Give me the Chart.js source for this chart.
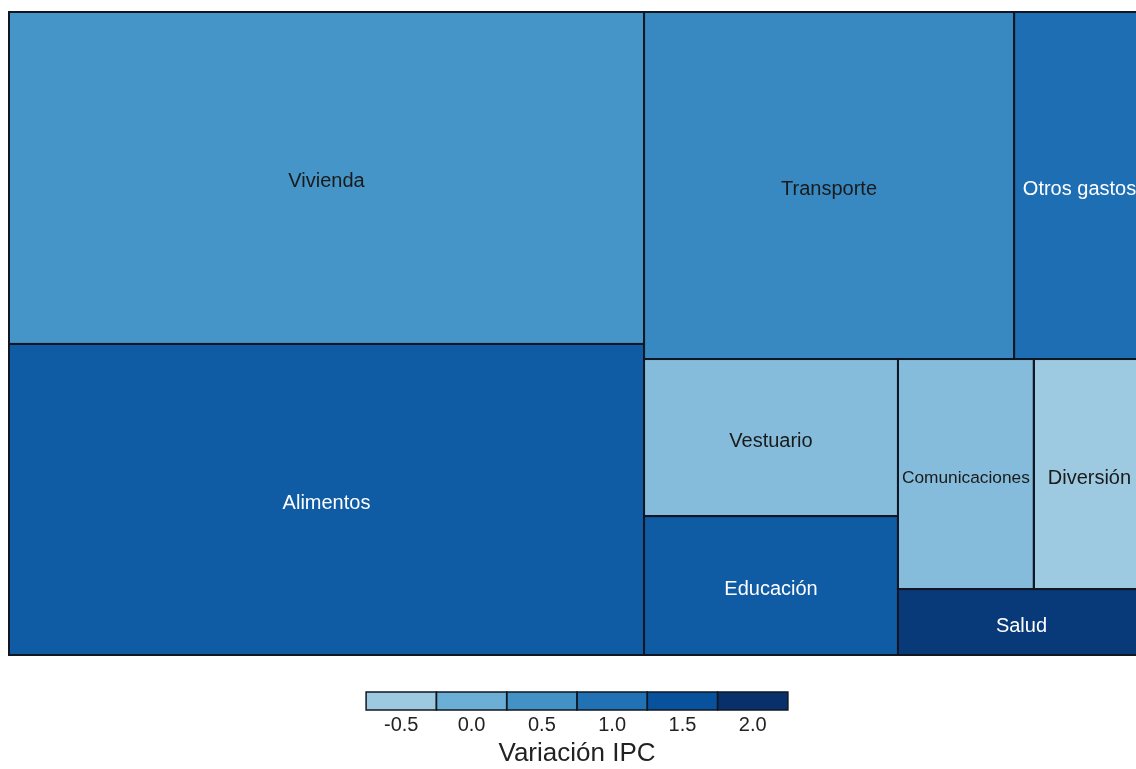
<!DOCTYPE html>
<html>
<head>
<meta charset="utf-8">
<script src="https://cdn.jsdelivr.net/npm/chart.js@4.4.1/dist/chart.umd.min.js"></script>
<style>
html,body{margin:0;padding:0;overflow:hidden;background:#fff}
#wrap{width:1154px;height:769px;position:relative}
</style>
</head>
<body>
<div id="wrap"><canvas id="c" width="1154" height="769"></canvas></div>
<script>
// ---- data ----
const categories = ['Vivienda', 'Alimentos', 'Transporte', 'Otros gastos', 'Vestuario', 'Educación', 'Comunicaciones', 'Diversión', 'Salud'];
const weights = [28.86, 27.04, 17.58, 6.22, 5.46, 4.83, 4.28, 3.50, 2.23];
const ipcVariation = [0.45, 1.35, 0.65, 1.05, -0.25, 1.35, -0.25, -0.5, 1.85];
const legendTicks = [-0.5, 0.0, 0.5, 1.0, 1.5, 2.0];
const legendColors = ['#9ecae1', '#6baed6', '#4292c6', '#2171b5', '#08519c', '#08306b'];
const legendTitle = 'Variación IPC';

// ---- helpers ----
function hexToRgb(h) { h = h.replace('#', ''); return [parseInt(h.substr(0,2),16), parseInt(h.substr(2,2),16), parseInt(h.substr(4,2),16)]; }
function colorFor(v) {
  const t = legendTicks;
  if (v <= t[0]) return hexToRgb(legendColors[0]);
  if (v >= t[t.length-1]) return hexToRgb(legendColors[t.length-1]);
  for (let i = 0; i < t.length - 1; i++) {
    if (v >= t[i] && v <= t[i+1]) {
      const f = (v - t[i]) / (t[i+1] - t[i]);
      const a = hexToRgb(legendColors[i]), b = hexToRgb(legendColors[i+1]);
      return a.map((c, k) => Math.round(c + (b[k] - c) * f));
    }
  }
}
function lum(rgb) {
  const l = rgb.map(c => { c /= 255; return c <= 0.03928 ? c / 12.92 : Math.pow((c + 0.055) / 1.055, 2.4); });
  return 0.2126*l[0] + 0.7152*l[1] + 0.0722*l[2];
}
const sumOf = arr => arr.reduce((s, it) => s + it.v, 0);

// pivot-by-size treemap layout (items sorted by size, descending)
function pivotLayout(items, x, y, w, h, out) {
  if (!items.length) return;
  if (items.length === 1) { out.push(Object.assign({}, items[0], {x, y, w, h})); return; }
  const total = sumOf(items);
  const P = items[0];
  const rest = items.slice(1);
  const wide = w >= h;
  let best = null;
  for (let k = 0; k <= rest.length; k++) {
    const s = P.v + sumOf(rest.slice(0, k));
    let pw, ph;
    if (wide) { pw = w * s / total; ph = h * P.v / s; }
    else { ph = h * s / total; pw = w * P.v / s; }
    const ar = Math.max(pw / ph, ph / pw);
    if (!best || ar < best.ar - 1e-9) best = {k, ar};
  }
  const L2 = rest.slice(0, best.k), L3 = rest.slice(best.k);
  const s = P.v + sumOf(L2);
  if (wide) {
    const cw = w * s / total, ph = h * P.v / s;
    out.push(Object.assign({}, P, {x, y, w: cw, h: ph}));
    pivotLayout(L2, x, y + ph, cw, h - ph, out);
    pivotLayout(L3, x + cw, y, w - cw, h, out);
  } else {
    const rh = h * s / total, pw = w * P.v / s;
    out.push(Object.assign({}, P, {x, y, w: pw, h: rh}));
    pivotLayout(L2, x + pw, y, w - pw, rh, out);
    pivotLayout(L3, x, y + rh, w, h - rh, out);
  }
}

const FONT = '"Liberation Sans", Arial, sans-serif';

const treemapPlugin = {
  id: 'treemapDraw',
  afterDraw(chart) {
    const {ctx, chartArea: ca, scales: {x: sx, y: sy}} = chart;
    const items = categories.map((c, i) => ({label: c, v: weights[i], val: ipcVariation[i]}))
      .sort((a, b) => b.v - a.v);
    const rects = [];
    // layout in pixel-proportional units, then converted to data units (0..100)
    pivotLayout(items, 0, 0, ca.width, ca.height, rects);
    rects.forEach(r => {
      r.dx0 = r.x / ca.width * 100; r.dx1 = (r.x + r.w) / ca.width * 100;
      r.dy0 = r.y / ca.height * 100; r.dy1 = (r.y + r.h) / ca.height * 100;
    });
    ctx.save();
    // fills
    rects.forEach(r => {
      const px0 = sx.getPixelForValue(r.dx0), px1 = sx.getPixelForValue(r.dx1);
      const py0 = sy.getPixelForValue(r.dy0), py1 = sy.getPixelForValue(r.dy1);
      r.p = {x0: px0, x1: px1, y0: py0, y1: py1};
      r.rgb = colorFor(r.val);
      ctx.fillStyle = 'rgb(' + r.rgb.join(',') + ')';
      ctx.fillRect(px0, py0, px1 - px0, py1 - py0);
    });
    // borders
    ctx.strokeStyle = '#111722';
    ctx.lineWidth = 2;
    rects.forEach(r => {
      ctx.strokeRect(r.p.x0, r.p.y0, r.p.x1 - r.p.x0, r.p.y1 - r.p.y0);
    });
    // labels
    ctx.textAlign = 'center';
    ctx.textBaseline = 'middle';
    rects.forEach(r => {
      const w = r.p.x1 - r.p.x0;
      let size = 20;
      ctx.font = size + 'px ' + FONT;
      const tw = ctx.measureText(r.label).width;
      if (tw > w - 8) size = size * (w - 8) / tw;
      ctx.font = size + 'px ' + FONT;
      ctx.fillStyle = lum(r.rgb) < 0.18 ? '#ffffff' : '#1a1a1a';
      ctx.fillText(r.label, (r.p.x0 + r.p.x1) / 2, (r.p.y0 + r.p.y1) / 2 + 4);
    });
    // legend (colour key)
    const cx = (ca.left + ca.right) / 2;
    const bw = 70.3, bh = 18, n = legendTicks.length;
    const lx = cx - bw * n / 2, ly = ca.bottom + 37;
    for (let i = 0; i < n; i++) {
      ctx.fillStyle = legendColors[i];
      ctx.fillRect(lx + i * bw, ly, bw, bh);
    }
    ctx.strokeStyle = '#111722';
    ctx.lineWidth = 1.5;
    for (let i = 0; i < n; i++) ctx.strokeRect(lx + i * bw, ly, bw, bh);
    ctx.fillStyle = '#222';
    ctx.font = '20px ' + FONT;
    ctx.textBaseline = 'middle';
    legendTicks.forEach((t, i) => {
      ctx.fillText(t.toFixed(1), lx + (i + 0.5) * bw, ly + 33);
    });
    ctx.font = '26px ' + FONT;
    ctx.fillText(legendTitle, cx, ly + 62);
    ctx.restore();
  }
};

new Chart(document.getElementById('c'), {
  type: 'scatter',
  data: {datasets: [{label: 'IPC', data: [], pointRadius: 0}]},
  options: {
    responsive: false,
    animation: false,
    devicePixelRatio: 1,
    layout: {padding: {left: 9, top: 12, right: 9, bottom: 114}},
    plugins: {legend: {display: false}, tooltip: {enabled: false}},
    scales: {
      x: {type: 'linear', min: 0, max: 100, display: false},
      y: {type: 'linear', min: 0, max: 100, reverse: true, display: false}
    }
  },
  plugins: [treemapPlugin]
});
</script>
</body>
</html>
